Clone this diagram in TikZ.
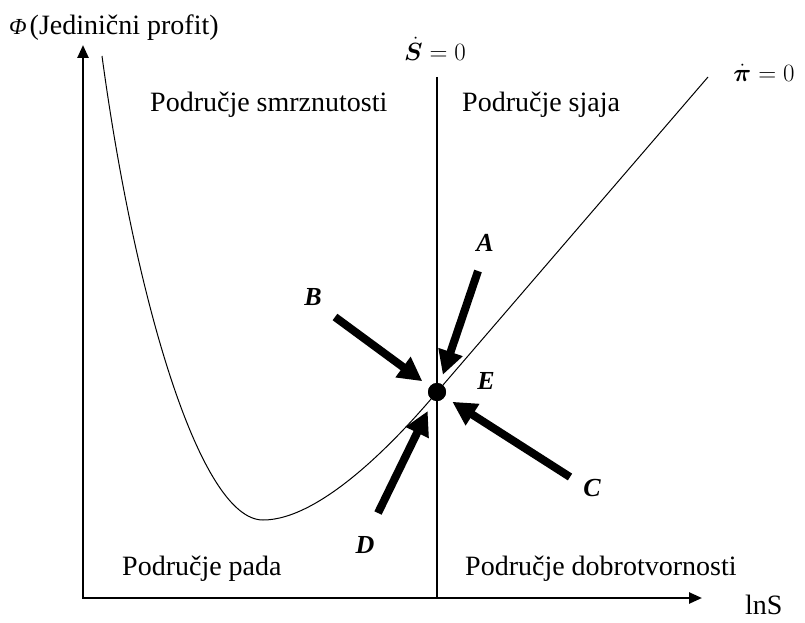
\documentclass[tikz,border=0pt]{standalone}
\usepackage{fontspec}
\setmainfont{Liberation Serif}
\usepackage{amsmath,bm}
\usetikzlibrary{arrows.meta}
\begin{document}
\begin{tikzpicture}[x=1pt,y=-1pt,
  region/.style={anchor=base west,inner sep=0pt,font=\fontsize{28}{30}\selectfont},
  letter/.style={inner sep=0pt,font=\fontsize{26}{28}\selectfont\bfseries\itshape},
  eqlabel/.style={inner sep=0pt,font=\fontsize{25}{27}\selectfont},
  axis/.style={line width=2.5pt,{Triangle[length=13pt,width=11pt]}-{Triangle[length=13pt,width=11pt]}},
  bigarrow/.style={line width=8pt,-{Triangle[length=24pt,width=24pt]},shorten >=9pt},
  curve/.style={line width=1pt}]
\useasboundingbox (0,0) rectangle (805,623);
% axes
\coordinate (O) at (83,598);
\coordinate (ytip) at (83,45);
\coordinate (xtip) at (702,598);
\draw[axis] (ytip) -- (O) -- (xtip);
% vertical line S dot = 0
\coordinate (vtop) at (437,77);
\coordinate (vbot) at (437,598);
\draw[line width=1.3pt] (vtop) -- (vbot);
% curve pi dot = 0
\coordinate (ctop) at (102,56);
\coordinate (cmin) at (263,520);
\coordinate (lend) at (708,77);
\node[circle,fill,inner sep=0pt,minimum size=18pt] (E) at (437,392) {};
\draw[curve] (ctop) .. controls (135,300) and (200,520) .. (cmin)
  .. controls (320,520) and (395,442) .. (E.center) -- (lend);
\node[circle,fill,inner sep=0pt,minimum size=18pt] at (E) {};
% arrows
\coordinate (As) at (478,271);
\coordinate (Bs) at (335,317);
\coordinate (Cs) at (570,477);
\coordinate (Ds) at (378,513);
\draw[bigarrow] (As) -- (E);
\draw[bigarrow] (Bs) -- (E);
\draw[bigarrow] (Cs) -- (E);
\draw[bigarrow,shorten >=12pt] (Ds) -- (E);
% letters
\node[letter] (lA) at (485,243) {A};
\node[letter] (lB) at (313,297) {B};
\node[letter] (lC) at (592,488) {C};
\node[letter] (lD) at (365,545) {D};
\node[letter] (lE) at (486,381) {E};
% equation labels
\node[eqlabel] (sdot) at (435,49) {$\bm{\dot{S}} = 0$};
\node[eqlabel] (pidot) at (764,73) {$\bm{\dot{\pi}} = 0$};
% texts
\node[region] (phi) at (9,35) {{\fontsize{23}{23}\selectfont\itshape Φ}\hspace{3pt}(Jedinični profit)};
\node[region] (r1) at (150,112) {Područje smrznutosti};
\node[region] (r2) at (462,112) {Područje sjaja};
\node[region] (r3) at (122,575) {Područje pada};
\node[region] (r4) at (465,575) {Područje dobrotvornosti};
\node[region] (lns) at (745,614) {lnS};
\end{tikzpicture}
\end{document}
